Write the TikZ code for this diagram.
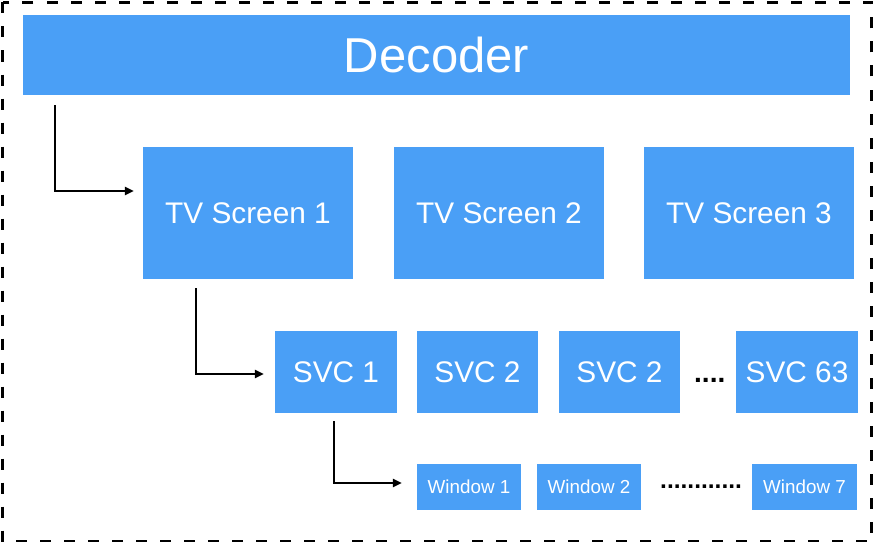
\documentclass[tikz,border=0pt]{standalone}
\usepackage{fontspec}
\setmainfont{Liberation Sans}
\usetikzlibrary{arrows.meta}
\definecolor{boxblue}{RGB}{74,159,246}
\begin{document}
\begin{tikzpicture}[x=1pt,y=-1pt,
  box/.style={fill=boxblue,draw=none,text=white,inner sep=0pt,anchor=center},
  bigbox/.style={box,minimum width=827pt,minimum height=80pt,font=\fontsize{49}{52}\selectfont},
  tvbox/.style={box,minimum width=210pt,minimum height=132pt,font=\fontsize{29.8}{32}\selectfont},
  svcbox/.style={box,minimum width=122pt,minimum height=82pt,font=\fontsize{29.8}{32}\selectfont},
  winbox/.style={box,minimum width=104pt,minimum height=46pt,font=\fontsize{18.8}{20}\selectfont},
  arr/.style={line width=2.2pt,-{Triangle[length=9pt,width=8pt]}},
  ell/.style={inner sep=0pt,anchor=base west}
]
\useasboundingbox (0,0) rectangle (874,543);
\draw[line width=2.6pt,dash pattern=on 11pt off 13pt] (2.5,2.5) rectangle (871.5,541);

\node[bigbox] (dec) at (436.5,55) {Decoder};

\node[tvbox] (tv1) at (248,213) {TV Screen 1};
\node[tvbox] (tv2) at (499,213) {TV Screen 2};
\node[tvbox] (tv3) at (749,213) {TV Screen 3};

\node[svcbox] (svc1) at (336,372) {SVC 1};
\node[svcbox,minimum width=121pt] (svc2) at (477.5,372) {SVC 2};
\node[svcbox,minimum width=121pt] (svc3) at (619.5,372) {SVC 2};
\node[svcbox] (svc63) at (797,372) {SVC 63};
\node[ell,font=\bfseries\fontsize{28}{30}\selectfont] (dots1) at (694,382.5) {....};

\node[winbox] (w1) at (469,487) {Window 1};
\node[winbox] (w2) at (589,487) {Window 2};
\node[winbox,minimum width=105pt] (w7) at (804.5,487) {Window 7};
\node[ell,font=\bfseries\fontsize{24.5}{26}\selectfont] (dots2) at (660,488.5) {............};

\coordinate (s1) at ([xshift=32pt,yshift=-10pt]dec.south west);
\coordinate (e1) at ([xshift=-9pt,yshift=22pt]tv1.west);
\coordinate (s2) at ([xshift=53.5pt,yshift=-9pt]tv1.south west);
\coordinate (e2) at ([xshift=-11pt,yshift=-2pt]svc1.west);
\coordinate (s3) at ([xshift=59pt,yshift=-8pt]svc1.south west);
\coordinate (e3) at ([xshift=-15pt,yshift=4pt]w1.west);

\draw[arr] (s1) |- (e1);
\draw[arr] (s2) |- (e2);
\draw[arr] (s3) |- (e3);
\end{tikzpicture}
\end{document}
